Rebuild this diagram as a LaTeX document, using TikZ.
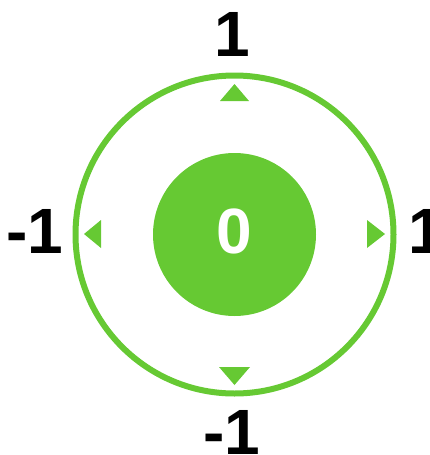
\documentclass[tikz,border=0pt]{standalone}
\usepackage{fontspec}
\setmainfont{Liberation Sans}
\definecolor{grn}{RGB}{102,201,51}
\begin{document}
\begin{tikzpicture}[x=1pt,y=-1pt,
  lbl/.style={font=\fontsize{64}{64}\selectfont\bfseries, inner sep=0pt, anchor=base},
  tri/.style={fill=grn, draw=none}]
\useasboundingbox (0,0) rectangle (429,455);
\node[circle, draw=grn, line width=6pt, minimum size=318pt, inner sep=0pt] (ring) at (234.5,234.5) {};
\node[circle, fill=grn, minimum size=163pt, inner sep=0pt] (hub) at (234.5,234.5) {};
\node[lbl, text=white] (zero) at (234.5,253) {0};
\node[lbl] (top) at (232,56) {1};
\node[lbl] (left) at (35,253) {-1};
\node[lbl] (right) at (426,253) {1};
\node[lbl] (bottom) at (232,454) {-1};
\fill[tri] (220,101) -- (234.5,84) -- (249,101) -- cycle;
\fill[tri] (219,367) -- (234.5,385) -- (250,367) -- cycle;
\fill[tri] (101,220) -- (84,234) -- (101,248) -- cycle;
\fill[tri] (367,220) -- (385,234) -- (367,248) -- cycle;
\end{tikzpicture}
\end{document}
